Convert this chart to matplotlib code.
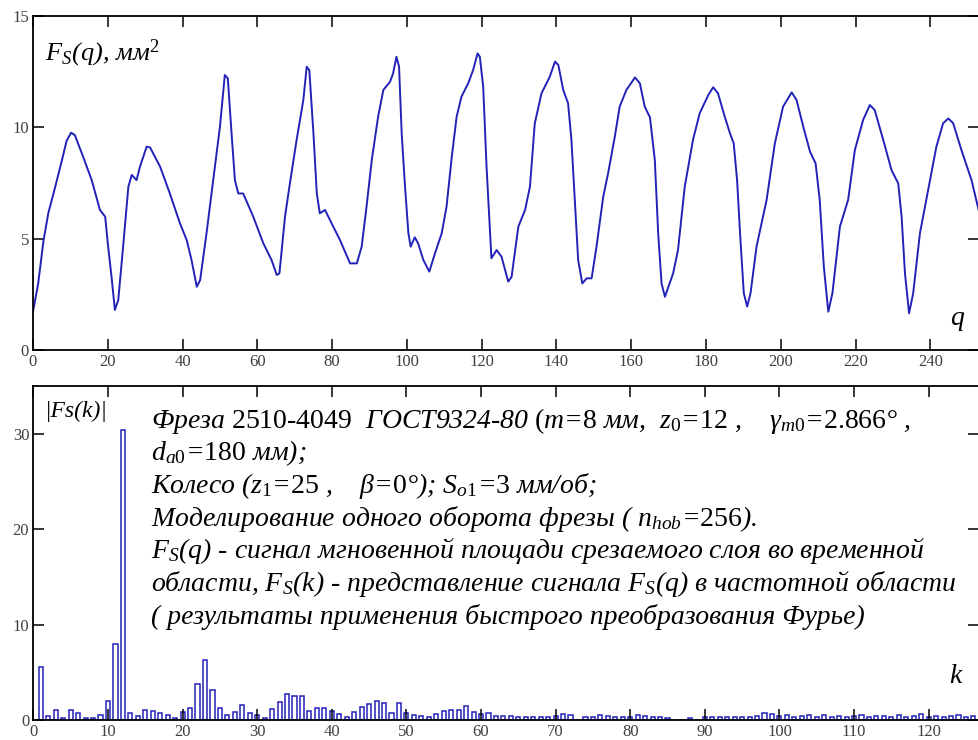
import matplotlib
matplotlib.use("Agg")
import matplotlib.pyplot as plt
from matplotlib.ticker import MultipleLocator

# ---------- data ----------
# top: F_S(q), instantaneous chip area over one hob revolution
q_pts = [0, 1.4, 2.8, 4.1, 5.9, 7.7, 9.0, 10.2, 11.2, 13.4, 15.7, 17.9, 19.3, 20.1, 21.0,
         21.9, 22.8, 24.1, 25.5, 26.4, 27.7, 28.6, 30.4, 31.3, 34.0, 36.6, 39.3, 41.1, 42.4,
         43.8, 44.7, 46.4, 48.2, 50.0, 51.3, 52.1, 53.1, 54.0, 54.9, 56.2, 58.9, 61.6, 63.8,
         65.2, 65.9, 67.4, 68.7, 70.5, 72.3, 73.2, 73.9, 75.0, 75.9, 76.7, 78.1, 80.3, 82.1,
         84.8, 86.6, 87.9, 89.2, 90.6, 92.3, 93.7, 95.5, 96.3, 97.2, 97.9, 98.6, 99.5, 100.4,
         101.0, 102.1, 103.0, 104.4, 106.0, 107.5, 109.3, 110.6, 112.0, 113.3, 114.6, 116.4,
         117.7, 118.9, 119.5, 120.4, 121.3, 122.6, 124.0, 125.3, 127.1, 128.0, 129.8, 131.6,
         132.9, 134.2, 136.0, 138.2, 139.6, 140.5, 141.8, 143.1, 144.0, 144.9, 145.8, 146.9,
         148.1, 149.4, 150.7, 152.5, 153.8, 155.6, 156.9, 158.7, 161.0, 162.3, 163.6, 165.0,
         166.3, 167.2, 168.1, 169.0, 171.2, 172.5, 174.3, 176.5, 178.3, 180.6, 181.9, 183.2,
         185.0, 186.4, 187.4, 188.3, 189.2, 190.1, 191.0, 191.9, 193.5, 196.2, 198.4, 200.6,
         202.9, 204.2, 206.0, 207.8, 209.3, 210.4, 211.5, 212.7, 213.8, 215.8, 218.0, 219.8,
         222.0, 223.8, 225.1, 227.4, 229.6, 231.4, 232.3, 233.2, 234.3, 235.4, 237.2, 239.4,
         241.6, 243.4, 244.8, 246.1, 248.3, 251.0, 252.9]
fs_pts = [1.72, 3.0, 4.9, 6.15, 7.3, 8.5, 9.4, 9.76, 9.65, 8.68, 7.63, 6.29, 5.99, 4.64, 3.29,
          1.80, 2.24, 4.64, 7.33, 7.86, 7.63, 8.23, 9.13, 9.1, 8.23, 7.03, 5.69, 4.94, 4.04,
          2.84, 3.14, 5.24, 7.63, 10.03, 12.35, 12.2, 9.73, 7.63, 7.03, 7.03, 5.99, 4.79, 4.04,
          3.37, 3.44, 5.99, 7.48, 9.43, 11.23, 12.72, 12.57, 9.73, 7.03, 6.14, 6.29, 5.54, 4.94,
          3.89, 3.89, 4.64, 6.44, 8.53, 10.48, 11.68, 12.05, 12.42, 13.17, 12.72, 9.73, 7.33, 5.24,
          4.64, 5.06, 4.79, 4.04, 3.52, 4.34, 5.24, 6.44, 8.68, 10.48, 11.38, 11.98,
          12.57, 13.32, 13.17, 11.83, 8.23, 4.12, 4.49, 4.19, 3.07, 3.29, 5.54, 6.29,
          7.33, 10.18, 11.53, 12.27, 12.95, 12.8, 11.68, 11.08, 9.43, 6.74, 4.04, 2.99,
          3.22, 3.22, 4.64, 6.88, 7.93, 9.58, 10.93, 11.68, 12.24, 11.98, 10.93, 10.45,
          8.53, 5.24, 2.99, 2.39, 3.44, 4.49, 7.33, 9.43, 10.63, 11.45, 11.8, 11.53,
          10.48, 9.73, 9.28, 7.63, 4.94, 2.55, 1.95, 2.55, 4.64, 6.74, 9.28, 10.93,
          11.57, 11.23, 10.03, 8.91, 8.38, 6.74, 3.74, 1.72, 2.55, 5.54, 6.74, 8.98,
          10.33, 11.0, 10.78, 9.43, 8.08, 7.48, 5.99, 3.44, 1.65, 2.55, 5.24, 7.18,
          9.13, 10.18, 10.4, 10.18, 8.98, 7.63, 6.29]

# bottom: |Fs(k)|, spectrum bins k = 1..127
k_bins = list(range(1, 128))
fk_vals = [5.55, 0.38, 1.04, 0.24, 1.04, 0.73, 0.24, 0.24, 0.52, 1.98,
           8.0, 30.4, 0.73, 0.38, 1.04, 0.97, 0.73, 0.52, 0.24, 0.83,
           1.28, 3.75, 6.28, 3.16, 1.28, 0.52, 0.83, 1.56, 0.69, 0.52,
           0.24, 1.15, 1.84, 2.71, 2.53, 2.53, 0.97, 1.28, 1.25, 0.97,
           0.64, 0.28, 0.87, 1.32, 1.67, 2.0, 1.77, 0.7, 1.77, 0.7,
           0.5, 0.38, 0.35, 0.64, 0.97, 1.08, 1.08, 1.5, 0.8, 0.64,
           0.73, 0.45, 0.38, 0.45, 0.28, 0.28, 0.28, 0.28, 0.35, 0.45,
           0.64, 0.5, 0.05, 0.28, 0.35, 0.5, 0.38, 0.28, 0.35, 0.35,
           0.5, 0.45, 0.3, 0.3, 0.25, 0.05, 0.05, 0.25, 0.05, 0.3,
           0.35, 0.3, 0.3, 0.3, 0.3, 0.35, 0.4, 0.7, 0.6, 0.4,
           0.5, 0.35, 0.4, 0.55, 0.35, 0.5, 0.3, 0.45, 0.35, 0.4,
           0.5, 0.35, 0.45, 0.4, 0.3, 0.5, 0.35, 0.4, 0.6, 0.35,
           0.45, 0.3, 0.4, 0.5, 0.35, 0.45, 0.3]

info_lines = [
    r"Фреза $\mathrm{2510}$-$\mathrm{4049}$  ГОСТ9324-80 $\mathrm{(}$m=$\mathrm{8}$ мм,  "
    r"z$_{\mathrm{0}}$=$\mathrm{12}$ ,    γ$_{m\mathrm{0}}$=$\mathrm{2.866}$° ,",
    r"d$_{a\mathrm{0}}$=$\mathrm{180}$ мм);",
    r"Колесо (z$_{\mathrm{1}}$=$\mathrm{25}$ ,    β=$\mathrm{0}$°); S$_{o\mathrm{1}}$=$\mathrm{3}$ мм/об;",
    r"Моделирование одного оборота фрезы ( n$_{hob}$=$\mathrm{256}$).",
    r"F$_S$(q) - сигнал мгновенной площади срезаемого слоя во временной",
    r"области, F$_S$(k) - представление сигнала F$_S$(q) в частотной области",
    r"( результаты применения быстрого преобразования Фурье)",
]

# ---------- style ----------
plt.rcParams['font.family'] = ['Liberation Serif', 'DejaVu Serif']
plt.rcParams['mathtext.fontset'] = 'custom'
plt.rcParams['mathtext.rm'] = 'Liberation Serif'
plt.rcParams['mathtext.it'] = 'Liberation Serif:italic'
plt.rcParams['mathtext.bf'] = 'Liberation Serif:bold'

blue = '#2222b8'
W, H = 979.0, 740.0

fig = plt.figure(figsize=(9.79, 7.4), dpi=100)


def style_axes(ax):
    for s in ax.spines.values():
        s.set_linewidth(1.3)
    ax.tick_params(which='both', direction='in', length=8, width=1.1,
                   top=True, right=True, labelsize=12, labelcolor='#404040', pad=3)


# top panel
ax1 = fig.add_axes([33 / W, 1 - 350 / H, 946 / W, 334 / H])
ax1.plot(q_pts, fs_pts, color=blue, lw=1.4)
ax1.set_xlim(0, 253)
ax1.set_ylim(0, 15)
ax1.xaxis.set_major_locator(MultipleLocator(20))
ax1.yaxis.set_major_locator(MultipleLocator(5))
style_axes(ax1)
ax1.text(0.013, 0.868, r"F$_S$(q), мм$^{\mathrm{2}}$", transform=ax1.transAxes,
         fontsize=19, style='italic', va='baseline')
ax1.text(0.969, 0.075, "q", transform=ax1.transAxes, fontsize=20, style='italic',
         va='baseline')

# bottom panel
ax2 = fig.add_axes([33.4 / W, 1 - 720 / H, 945.6 / W, 334 / H])
ax2.bar(k_bins, fk_vals, width=0.55, facecolor='white', edgecolor=blue, linewidth=1.1)
ax2.set_xlim(0, 126.75)
ax2.set_ylim(0, 35)
ax2.xaxis.set_major_locator(MultipleLocator(10))
ax2.yaxis.set_major_locator(MultipleLocator(10))
style_axes(ax2)
ax2.text(0.012, 0.907, "|Fs(k)|", transform=ax2.transAxes, fontsize=17, style='italic',
         va='baseline')
ax2.text(0.969, 0.11, "k", transform=ax2.transAxes, fontsize=20, style='italic',
         va='baseline')

# description block
base_y = 428
for i, line in enumerate(info_lines):
    fig.text(151 / W, 1 - (base_y + 32.6 * i) / H, line, fontsize=20, style='italic',
             va='baseline', ha='left')

fig.savefig("out.png", dpi=100)
